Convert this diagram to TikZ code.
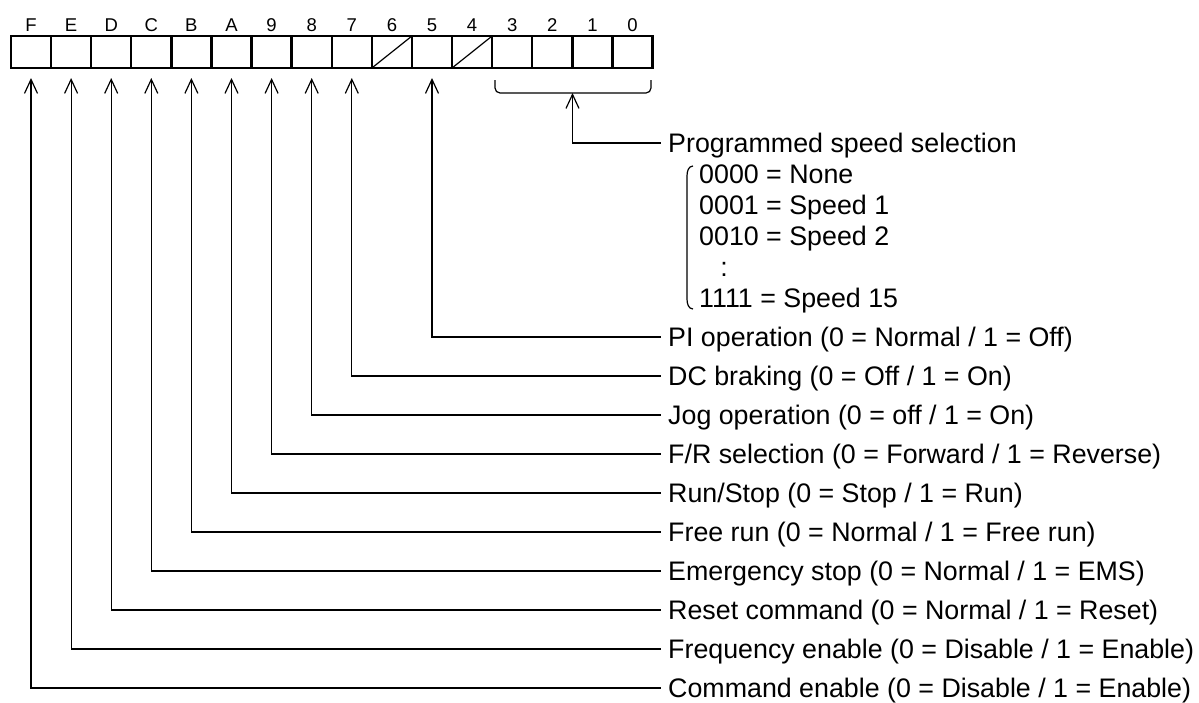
\documentclass[tikz,border=0pt]{standalone}
\usepackage{fontspec}
\setmainfont{Liberation Sans}
\usetikzlibrary{arrows.meta,positioning}
\tikzset{
  bitcell/.style={draw,line width=2.4pt,minimum width=40.1pt,minimum height=32pt,inner sep=0pt,outer sep=0pt},
  bitlabel/.style={font=\fontsize{18.5}{20}\selectfont,text height=13.2pt,text depth=0pt,inner sep=0pt},
  desc/.style={anchor=west,inner xsep=7pt,inner ysep=0pt,text height=19.2pt,text depth=0pt,font=\fontsize{26.8}{30}\selectfont},
  subitem/.style={desc,inner xsep=0pt},
  feed/.style={line width=1.2pt,{Straight Barb[length=14pt,width=13pt]}-},
}

\begin{document}
\begin{tikzpicture}[x=1pt,y=-1pt]
        \useasboundingbox (0,0) rectangle (1199,702);
        % register bits, F on the left
        \foreach \b [count=\i from 0] in {F,E,D,C,B,A,9,8,7,6,5,4,3,2,1,0}
          {\node[bitcell] (c\b) at ({31+40.1*\i},52) {};
           \node[bitlabel] (l\b) at ({31+40.1*\i},24.5) {\b};}
        \draw[line width=1.2pt] (c6.south west) -- (c6.north east);
        \draw[line width=1.2pt] (c4.south west) -- (c4.north east);
        % bracket under bits 3..0
        \draw[line width=1.2pt,rounded corners=5pt] (495,80) -- (495,93) -- (651,93) -- (651,80);
        \coordinate (brc) at (572.5,93);
        \node[desc] (prog) at (661,143) {Programmed speed selection};
        \node[subitem] (s0) at (699,174) {0000 = None};
        \node[subitem] (s1) at (699,205) {0001 = Speed 1};
        \node[subitem] (s2) at (699,236) {0010 = Speed 2};
        \node[subitem,anchor=center] (s3) at (724,267) {:};
        \node[subitem] (s4) at (699,298) {1111 = Speed 15};
        \draw[line width=1.2pt] (693,166) to[out=180,in=90] (687,176) -- (687,299) to[out=-90,in=180] (693,309);
        \node[desc] (pi) at (661,337) {PI operation (0 = Normal / 1 = Off)};
        \node[desc] (dcb) at (661,376) {DC braking (0 = Off / 1 = On)};
        \node[desc] (jog) at (661,415) {Jog operation (0 = off / 1 = On)};
        \node[desc] (fr) at (661,454) {F/R selection (0 = Forward / 1 = Reverse)};
        \node[desc] (run) at (661,493) {Run/Stop (0 = Stop / 1 = Run)};
        \node[desc] (free) at (661,532) {Free run (0 = Normal / 1 = Free run)};
        \node[desc] (ems) at (661,571) {Emergency stop (0 = Normal / 1 = EMS)};
        \node[desc] (rst) at (661,610) {Reset command (0 = Normal / 1 = Reset)};
        \node[desc] (freq) at (661,649) {Frequency enable (0 = Disable / 1 = Enable)};
        \node[desc] (cmd) at (661,688) {Command enable (0 = Disable / 1 = Enable)};
        \draw[feed] (brc) |- (prog.west);
        \foreach \b/\d in {5/pi,7/dcb,8/jog,9/fr,A/run,B/free,C/ems,D/rst,E/freq,F/cmd}
          {\draw[feed] ([yshift=-10pt]c\b.south) |- (\d.west);}
      \end{tikzpicture}
\end{document}
